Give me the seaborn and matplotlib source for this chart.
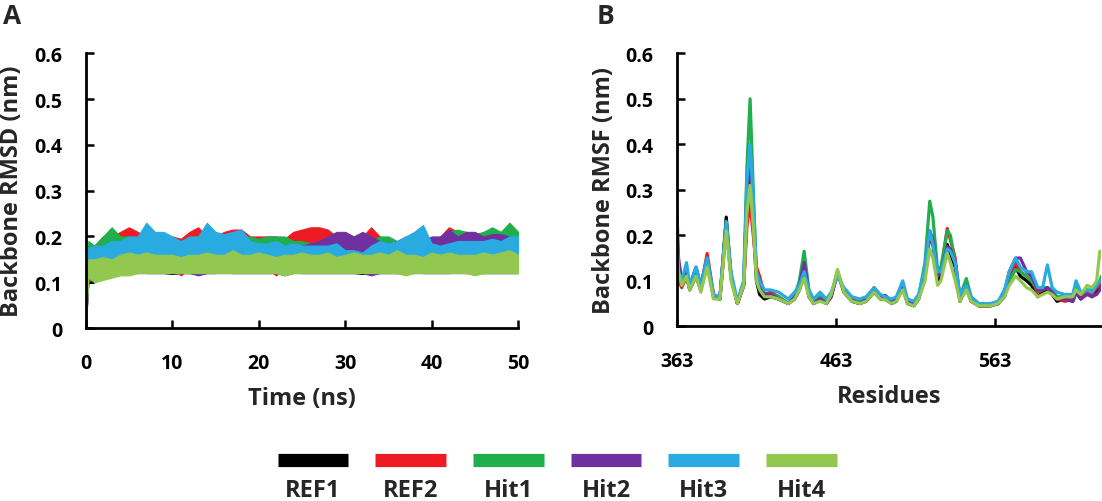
import numpy as np
import pandas as pd
import matplotlib
matplotlib.use("Agg")
import matplotlib.pyplot as plt
import seaborn as sns

# ---------------------------
# Data
# ---------------------------
systems = ["REF1", "REF2", "Hit1", "Hit2", "Hit3", "Hit4"]
colors = ["#000000", "#ED1C24", "#1FAF4C", "#7030A0", "#29ABE2", "#92C850"]

# Panel A: RMSD band (lower / upper edge) at t = 0, 0.3, 1 ... 50 ns
time_ns = np.concatenate([[0, 0.3], np.arange(1, 51)])

ref1_hi = [0, 0.15,
           0.16, 0.17, 0.17, 0.17, 0.18, 0.17, 0.17, 0.18, 0.17, 0.17,
           0.17, 0.18, 0.17, 0.17, 0.18, 0.17, 0.17, 0.18, 0.17, 0.17,
           0.17, 0.18, 0.17, 0.17, 0.17, 0.18, 0.17, 0.17, 0.18, 0.17,
           0.17, 0.17, 0.18, 0.17, 0.17, 0.17, 0.18, 0.17, 0.18, 0.17,
           0.17, 0.17, 0.18, 0.17, 0.17, 0.18, 0.17, 0.17, 0.18, 0.17]
ref1_lo = [0, 0.098,
           0.10, 0.11, 0.12, 0.12, 0.12, 0.125, 0.12, 0.12, 0.12, 0.118,
           0.12, 0.12, 0.118, 0.12, 0.12, 0.125, 0.12, 0.12, 0.12, 0.12,
           0.12, 0.12, 0.12, 0.125, 0.12, 0.12, 0.12, 0.12, 0.12, 0.12,
           0.12, 0.118, 0.12, 0.12, 0.12, 0.12, 0.12, 0.125, 0.12, 0.12,
           0.12, 0.12, 0.125, 0.12, 0.12, 0.12, 0.12, 0.12, 0.12, 0.12]

ref2_hi = [0, 0.16,
           0.18, 0.20, 0.20, 0.21, 0.22, 0.21, 0.20, 0.19, 0.19, 0.20,
           0.195, 0.21, 0.22, 0.20, 0.20, 0.21, 0.215, 0.215, 0.20, 0.20,
           0.20, 0.20, 0.195, 0.21, 0.215, 0.22, 0.22, 0.215, 0.20, 0.19,
           0.195, 0.20, 0.22, 0.20, 0.19, 0.19, 0.20, 0.19, 0.19, 0.19,
           0.20, 0.22, 0.21, 0.21, 0.20, 0.20, 0.20, 0.205, 0.21, 0.21]
ref2_lo = [0, 0.11,
           0.12, 0.12, 0.125, 0.13, 0.13, 0.13, 0.13, 0.125, 0.13, 0.13,
           0.115, 0.13, 0.13, 0.13, 0.13, 0.13, 0.125, 0.13, 0.13, 0.13,
           0.13, 0.115, 0.13, 0.13, 0.13, 0.125, 0.13, 0.13, 0.13, 0.13,
           0.13, 0.13, 0.13, 0.13, 0.13, 0.13, 0.13, 0.13, 0.13, 0.13,
           0.13, 0.13, 0.13, 0.13, 0.13, 0.13, 0.13, 0.13, 0.13, 0.13]

hit1_hi = [0, 0.19,
           0.18, 0.20, 0.22, 0.20, 0.20, 0.19, 0.195, 0.20, 0.19, 0.185,
           0.19, 0.19, 0.19, 0.19, 0.20, 0.19, 0.19, 0.20, 0.20, 0.195,
           0.20, 0.20, 0.20, 0.19, 0.19, 0.185, 0.19, 0.19, 0.19, 0.20,
           0.20, 0.19, 0.19, 0.20, 0.20, 0.19, 0.19, 0.19, 0.19, 0.19,
           0.20, 0.21, 0.215, 0.21, 0.205, 0.21, 0.22, 0.21, 0.23, 0.21]
hit1_lo = [0, 0.12,
           0.13, 0.13, 0.13, 0.13, 0.13, 0.13, 0.13, 0.13, 0.13, 0.13,
           0.13, 0.13, 0.13, 0.13, 0.13, 0.13, 0.13, 0.13, 0.13, 0.13,
           0.13, 0.13, 0.13, 0.13, 0.13, 0.13, 0.13, 0.13, 0.13, 0.13,
           0.13, 0.13, 0.13, 0.13, 0.13, 0.13, 0.13, 0.13, 0.13, 0.13,
           0.13, 0.13, 0.13, 0.13, 0.13, 0.13, 0.13, 0.13, 0.13, 0.13]

hit2_hi = [0, 0.15,
           0.17, 0.18, 0.18, 0.19, 0.19, 0.20, 0.19, 0.18, 0.18, 0.18,
           0.18, 0.18, 0.18, 0.18, 0.18, 0.18, 0.18, 0.18, 0.18, 0.18,
           0.18, 0.18, 0.18, 0.18, 0.18, 0.185, 0.19, 0.20, 0.21, 0.21,
           0.20, 0.21, 0.20, 0.19, 0.185, 0.19, 0.185, 0.19, 0.19, 0.20,
           0.20, 0.215, 0.20, 0.21, 0.21, 0.20, 0.205, 0.205, 0.20, 0.19]
hit2_lo = [0, 0.10,
           0.11, 0.115, 0.12, 0.12, 0.12, 0.12, 0.12, 0.12, 0.12, 0.12,
           0.12, 0.12, 0.115, 0.12, 0.12, 0.12, 0.12, 0.12, 0.12, 0.12,
           0.12, 0.12, 0.115, 0.12, 0.12, 0.12, 0.12, 0.12, 0.12, 0.12,
           0.12, 0.12, 0.115, 0.12, 0.12, 0.12, 0.12, 0.12, 0.12, 0.12,
           0.12, 0.12, 0.12, 0.12, 0.12, 0.12, 0.12, 0.12, 0.12, 0.12]

hit3_hi = [0, 0.175,
           0.18, 0.18, 0.19, 0.19, 0.20, 0.20, 0.23, 0.21, 0.21, 0.20,
           0.19, 0.20, 0.20, 0.23, 0.21, 0.205, 0.21, 0.215, 0.19, 0.185,
           0.185, 0.19, 0.18, 0.185, 0.18, 0.18, 0.18, 0.18, 0.185, 0.17,
           0.17, 0.165, 0.18, 0.19, 0.185, 0.19, 0.20, 0.21, 0.225, 0.185,
           0.18, 0.185, 0.19, 0.19, 0.19, 0.19, 0.195, 0.19, 0.20, 0.20]
hit3_lo = [0, 0.115,
           0.125, 0.125, 0.125, 0.125, 0.125, 0.125, 0.125, 0.125, 0.125, 0.125,
           0.125, 0.125, 0.125, 0.125, 0.125, 0.125, 0.125, 0.125, 0.125, 0.125,
           0.125, 0.125, 0.125, 0.125, 0.125, 0.125, 0.125, 0.125, 0.125, 0.125,
           0.125, 0.125, 0.125, 0.125, 0.125, 0.125, 0.125, 0.125, 0.125, 0.125,
           0.125, 0.125, 0.125, 0.125, 0.125, 0.125, 0.125, 0.125, 0.125, 0.125]

hit4_hi = [0, 0.15,
           0.15, 0.155, 0.15, 0.16, 0.165, 0.16, 0.165, 0.16, 0.16, 0.16,
           0.155, 0.16, 0.16, 0.165, 0.16, 0.16, 0.17, 0.16, 0.16, 0.165,
           0.16, 0.155, 0.16, 0.16, 0.165, 0.16, 0.16, 0.165, 0.155, 0.16,
           0.165, 0.16, 0.16, 0.165, 0.16, 0.17, 0.16, 0.16, 0.155, 0.165,
           0.16, 0.165, 0.16, 0.16, 0.16, 0.165, 0.16, 0.165, 0.17, 0.16]
hit4_lo = [0, 0.11,
           0.10, 0.105, 0.11, 0.115, 0.115, 0.12, 0.12, 0.12, 0.12, 0.12,
           0.12, 0.12, 0.12, 0.12, 0.12, 0.12, 0.12, 0.12, 0.12, 0.12,
           0.12, 0.12, 0.115, 0.12, 0.12, 0.12, 0.12, 0.12, 0.12, 0.12,
           0.12, 0.12, 0.12, 0.12, 0.12, 0.12, 0.115, 0.12, 0.12, 0.12,
           0.12, 0.12, 0.12, 0.12, 0.115, 0.12, 0.12, 0.12, 0.12, 0.12]

rmsd_lo = [ref1_lo, ref2_lo, hit1_lo, hit2_lo, hit3_lo, hit4_lo]
rmsd_hi = [ref1_hi, ref2_hi, hit1_hi, hit2_hi, hit3_hi, hit4_hi]

# Panel B: RMSF per residue
residues = [363, 364, 366, 369, 371, 375, 378, 382, 386, 390,
            394, 397, 401, 405, 407, 409, 411, 413, 415, 418,
            422, 427, 433, 437, 440, 443, 446, 449, 453, 457,
            460, 464, 468, 473, 478, 482, 487, 491, 494, 498,
            501, 505, 508, 512, 515, 519, 522, 524, 527, 529,
            533, 535, 538, 541, 545, 548, 553, 560, 565, 569,
            572, 576, 579, 583, 586, 590, 593, 596, 599, 602,
            607, 612, 614, 617, 621, 624, 627, 629, 630]

ref1_rmsf = [0.14, 0.11, 0.09, 0.11, 0.08, 0.11, 0.08, 0.14, 0.065, 0.06,
             0.24, 0.11, 0.05, 0.09, 0.25, 0.33, 0.22, 0.10, 0.07, 0.06,
             0.065, 0.06, 0.05, 0.06, 0.08, 0.12, 0.065, 0.05, 0.06, 0.05,
             0.065, 0.12, 0.075, 0.055, 0.05, 0.055, 0.075, 0.06, 0.06, 0.05,
             0.055, 0.085, 0.05, 0.045, 0.06, 0.11, 0.20, 0.18, 0.10, 0.11,
             0.18, 0.16, 0.13, 0.055, 0.085, 0.055, 0.045, 0.045, 0.05, 0.065,
             0.10, 0.13, 0.11, 0.10, 0.09, 0.065, 0.075, 0.08, 0.07, 0.055,
             0.06, 0.055, 0.075, 0.06, 0.075, 0.065, 0.08, 0.09, 0.10]
ref2_rmsf = [0.12, 0.10, 0.085, 0.11, 0.085, 0.12, 0.085, 0.16, 0.07, 0.06,
             0.22, 0.11, 0.05, 0.09, 0.22, 0.27, 0.20, 0.13, 0.11, 0.07,
             0.075, 0.065, 0.05, 0.065, 0.08, 0.12, 0.07, 0.05, 0.065, 0.055,
             0.07, 0.115, 0.08, 0.06, 0.055, 0.06, 0.085, 0.065, 0.06, 0.055,
             0.06, 0.09, 0.055, 0.05, 0.065, 0.12, 0.20, 0.19, 0.11, 0.12,
             0.215, 0.19, 0.15, 0.06, 0.09, 0.06, 0.045, 0.045, 0.05, 0.07,
             0.105, 0.14, 0.12, 0.11, 0.10, 0.075, 0.08, 0.085, 0.07, 0.06,
             0.055, 0.06, 0.08, 0.065, 0.075, 0.07, 0.085, 0.09, 0.10]
hit1_rmsf = [0.15, 0.12, 0.10, 0.12, 0.09, 0.12, 0.09, 0.15, 0.065, 0.06,
             0.23, 0.11, 0.05, 0.10, 0.35, 0.50, 0.30, 0.11, 0.09, 0.07,
             0.07, 0.065, 0.05, 0.065, 0.10, 0.165, 0.08, 0.05, 0.065, 0.05,
             0.07, 0.12, 0.08, 0.055, 0.055, 0.06, 0.08, 0.065, 0.06, 0.055,
             0.06, 0.09, 0.055, 0.05, 0.065, 0.14, 0.275, 0.24, 0.12, 0.13,
             0.21, 0.20, 0.14, 0.065, 0.105, 0.065, 0.045, 0.045, 0.05, 0.07,
             0.10, 0.125, 0.12, 0.11, 0.10, 0.08, 0.085, 0.085, 0.08, 0.065,
             0.065, 0.065, 0.085, 0.07, 0.08, 0.08, 0.09, 0.10, 0.11]
hit2_rmsf = [0.25, 0.15, 0.10, 0.12, 0.09, 0.13, 0.09, 0.15, 0.065, 0.06,
             0.22, 0.11, 0.05, 0.09, 0.30, 0.36, 0.25, 0.11, 0.09, 0.07,
             0.07, 0.06, 0.05, 0.065, 0.09, 0.14, 0.075, 0.05, 0.06, 0.05,
             0.065, 0.115, 0.08, 0.055, 0.05, 0.06, 0.08, 0.065, 0.068, 0.055,
             0.06, 0.09, 0.055, 0.05, 0.06, 0.12, 0.21, 0.19, 0.11, 0.12,
             0.175, 0.17, 0.14, 0.06, 0.09, 0.06, 0.045, 0.045, 0.05, 0.075,
             0.12, 0.15, 0.15, 0.12, 0.11, 0.08, 0.08, 0.085, 0.075, 0.06,
             0.06, 0.055, 0.075, 0.06, 0.07, 0.065, 0.07, 0.08, 0.09]
hit3_rmsf = [0.15, 0.12, 0.10, 0.14, 0.09, 0.13, 0.09, 0.15, 0.07, 0.065,
             0.23, 0.12, 0.055, 0.10, 0.32, 0.40, 0.28, 0.12, 0.10, 0.08,
             0.08, 0.075, 0.06, 0.075, 0.09, 0.12, 0.08, 0.06, 0.075, 0.06,
             0.075, 0.11, 0.085, 0.065, 0.06, 0.065, 0.085, 0.07, 0.065, 0.06,
             0.065, 0.10, 0.06, 0.055, 0.07, 0.13, 0.21, 0.18, 0.12, 0.12,
             0.17, 0.165, 0.14, 0.07, 0.09, 0.065, 0.05, 0.05, 0.055, 0.08,
             0.12, 0.15, 0.13, 0.12, 0.12, 0.085, 0.085, 0.135, 0.085, 0.075,
             0.07, 0.07, 0.10, 0.075, 0.08, 0.075, 0.09, 0.10, 0.10]
hit4_rmsf = [0.19, 0.12, 0.09, 0.11, 0.08, 0.11, 0.075, 0.13, 0.06, 0.06,
             0.21, 0.10, 0.05, 0.09, 0.25, 0.31, 0.22, 0.10, 0.08, 0.065,
             0.065, 0.06, 0.05, 0.06, 0.08, 0.105, 0.065, 0.05, 0.055, 0.05,
             0.07, 0.125, 0.075, 0.055, 0.05, 0.055, 0.075, 0.06, 0.058, 0.05,
             0.055, 0.08, 0.05, 0.045, 0.06, 0.10, 0.17, 0.15, 0.09, 0.10,
             0.16, 0.14, 0.10, 0.055, 0.08, 0.055, 0.045, 0.045, 0.05, 0.065,
             0.09, 0.11, 0.10, 0.085, 0.08, 0.065, 0.07, 0.075, 0.07, 0.06,
             0.065, 0.065, 0.08, 0.07, 0.09, 0.085, 0.10, 0.165, 0.16]

rmsf_values = [ref1_rmsf, ref2_rmsf, hit1_rmsf, hit2_rmsf, hit3_rmsf, hit4_rmsf]

y_ticks = [0, 0.1, 0.2, 0.3, 0.4, 0.5, 0.6]
y_tick_labels = ["0", "0.1", "0.2", "0.3", "0.4", "0.5", "0.6"]
time_ticks = [0, 10, 20, 30, 40, 50]
res_ticks = [363, 463, 563]

# ---------------------------
# Long-form tables
# ---------------------------
rows = []
for name, lo, hi in zip(systems, rmsd_lo, rmsd_hi):
    for t, a, b in zip(time_ns, lo, hi):
        rows.append((name, t, a))
        rows.append((name, t, b))
rmsd_df = pd.DataFrame(rows, columns=["system", "time", "rmsd"])

rows = []
for name, vals in zip(systems, rmsf_values):
    for r, v in zip(residues, vals):
        rows.append((name, r, v))
rmsf_df = pd.DataFrame(rows, columns=["system", "residue", "rmsf"])

# ---------------------------
# Style
# ---------------------------
sns.set_style("ticks")
plt.rcParams["font.family"] = ["Open Sans", "DejaVu Sans"]
plt.rcParams["font.weight"] = "bold"
plt.rcParams["axes.labelweight"] = "bold"

palette = dict(zip(systems, colors))

fig = plt.figure(figsize=(11.02, 5.02), dpi=100)
ax_a = fig.add_axes([0.0778, 0.3446, 0.3923, 0.5472])
ax_b = fig.add_axes([0.6143, 0.3480, 0.3852, 0.5438])

# Panel A - RMSD bands
sns.lineplot(data=rmsd_df, x="time", y="rmsd", hue="system", hue_order=systems,
             palette=palette, estimator="mean", errorbar=("pi", 100),
             linewidth=0, err_kws={"alpha": 1, "linewidth": 0.8},
             legend=False, ax=ax_a)
ax_a.set_xlim(0, 50)
ax_a.set_xticks(time_ticks)
ax_a.set_xlabel("Time (ns)", fontsize=17, labelpad=9)
ax_a.set_ylabel("Backbone RMSD (nm)", fontsize=17, labelpad=7)

# Panel B - RMSF lines
sns.lineplot(data=rmsf_df, x="residue", y="rmsf", hue="system", hue_order=systems,
             palette=palette, linewidth=2.3, legend=False, ax=ax_b)
ax_b.set_xlim(363, 630)
ax_b.set_xticks(res_ticks)
ax_b.set_xlabel("Residues", fontsize=17, labelpad=9)
ax_b.set_ylabel("Backbone RMSF (nm)", fontsize=17, labelpad=7)

for ax in (ax_a, ax_b):
    ax.set_ylim(0, 0.6)
    ax.set_yticks(y_ticks)
    ax.set_yticklabels(y_tick_labels)
    sns.despine(ax=ax)
    for s in ("left", "bottom"):
        ax.spines[s].set_linewidth(2)
        ax.spines[s].set_color("black")
    ax.tick_params(direction="in", length=6, width=1.8, colors="black", labelsize=14)
    ax.tick_params(axis="x", pad=18)
    ax.tick_params(axis="y", pad=17)
    for lab in ax.get_xticklabels() + ax.get_yticklabels():
        lab.set_fontweight("bold")

fig.text(0.003, 0.995, "A", fontsize=19, fontweight="bold", va="top", ha="left")
fig.text(0.541, 0.995, "B", fontsize=19, fontweight="bold", va="top", ha="left")

# ---------------------------
# Legend (bars with labels underneath)
# ---------------------------
lax = fig.add_axes([264.2 / 1102, 0, 586 / 1102, 62 / 502])
lax.set_xlim(-0.5, len(systems) - 0.5)
lax.set_ylim(0, 1)
lax.axis("off")
for i, (name, col) in enumerate(zip(systems, colors)):
    lax.hlines(0.66, i - 0.363, i + 0.363, colors=col, linewidth=9.5)
    lax.text(i, 0.17, name, ha="center", va="center", fontsize=17, fontweight="bold")

fig.savefig("out.png", dpi=100)
